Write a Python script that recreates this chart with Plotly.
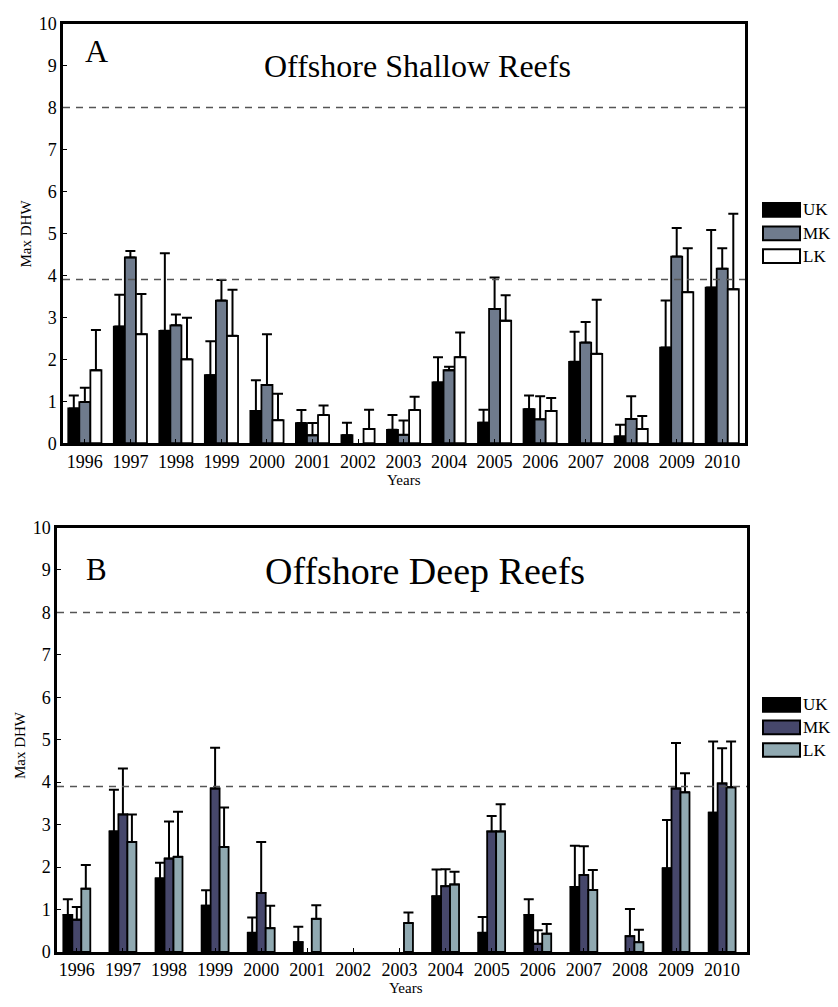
import plotly.graph_objects as go

years = ["1996", "1997", "1998", "1999", "2000", "2001", "2002", "2003",
         "2004", "2005", "2006", "2007", "2008", "2009", "2010"]
series_names = ["UK", "MK", "LK"]

# Panel A: Offshore Shallow Reefs (bar value, error-bar top)
a_uk = [0.83, 2.78, 2.68, 1.62, 0.77, 0.48, 0.19, 0.32, 1.45, 0.49, 0.81, 1.94, 0.16, 2.28, 3.71]
a_uk_top = [1.14, 3.54, 4.53, 2.43, 1.50, 0.79, 0.49, 0.67, 2.05, 0.80, 1.14, 2.66, 0.44, 3.40, 5.08]
a_mk = [0.98, 4.43, 2.81, 3.40, 1.39, 0.19, 0.0, 0.20, 1.74, 3.20, 0.57, 2.40, 0.58, 4.45, 4.16]
a_mk_top = [1.32, 4.58, 3.07, 3.89, 2.60, 0.48, 0.0, 0.54, 1.82, 3.95, 1.12, 2.89, 1.12, 5.13, 4.65]
a_lk = [1.74, 2.60, 2.00, 2.56, 0.55, 0.67, 0.34, 0.79, 2.05, 2.92, 0.77, 2.13, 0.34, 3.60, 3.67]
a_lk_top = [2.70, 3.56, 2.99, 3.66, 1.18, 0.90, 0.80, 1.11, 2.64, 3.53, 1.08, 3.42, 0.65, 4.65, 5.47]

# Panel B: Offshore Deep Reefs
b_uk = [0.87, 2.84, 1.73, 1.09, 0.45, 0.23, 0.0, 0.0, 1.31, 0.45, 0.87, 1.53, 0.0, 1.97, 3.28]
b_uk_top = [1.24, 3.82, 2.10, 1.45, 0.81, 0.59, 0.0, 0.0, 1.94, 0.82, 1.24, 2.50, 0.0, 3.11, 4.96]
b_mk = [0.76, 3.24, 2.20, 3.85, 1.39, 0.0, 0.0, 0.0, 1.55, 2.84, 0.19, 1.81, 0.37, 3.85, 3.97]
b_mk_top = [1.06, 4.32, 3.07, 4.81, 2.59, 0.0, 0.0, 0.0, 1.95, 3.20, 0.51, 2.49, 1.01, 4.92, 4.80]
b_lk = [1.49, 2.59, 2.24, 2.47, 0.56, 0.78, 0.0, 0.68, 1.59, 2.84, 0.43, 1.46, 0.23, 3.76, 3.88]
b_lk_top = [2.05, 3.24, 3.30, 3.40, 1.09, 1.10, 0.0, 0.93, 1.89, 3.48, 0.66, 1.93, 0.52, 4.21, 4.96]

thresholds = [8, 3.9]
y_ticks = list(range(0, 11))

colors_a = ["#000000", "#6f7b8d", "#ffffff"]
colors_b = ["#000000", "#46476b", "#90a9b1"]

W, H = 838, 1007
FONT = "Liberation Serif"

def px(x):
    return x / W

def py(y):
    return 1 - y / H

pos = list(range(1, len(years) + 1))

fig = go.Figure()

panels = [
    dict(vals=[a_uk, a_mk, a_lk], tops=[a_uk_top, a_mk_top, a_lk_top], colors=colors_a,
         xa="x", ya="y", bw=0.243),
    dict(vals=[b_uk, b_mk, b_lk], tops=[b_uk_top, b_mk_top, b_lk_top], colors=colors_b,
         xa="x2", ya="y2", bw=0.195),
]

for p in panels:
    bw = p["bw"]
    for i, name in enumerate(series_names):
        vals = p["vals"][i]
        tops = p["tops"][i]
        yv = [v if v > 0 else None for v in vals]
        err = [max(t - v, 0) if (v > 0 and t > 0) else None for v, t in zip(vals, tops)]
        fig.add_trace(go.Bar(
            x=pos, y=yv, name=name, showlegend=False,
            width=bw, offset=-1.5 * bw + i * bw,
            marker=dict(color=p["colors"][i], line=dict(color="black", width=1.8)),
            error_y=dict(type="data", symmetric=False, array=err, arrayminus=[0] * len(err),
                         color="black", thickness=2, width=5, visible=True),
            xaxis=p["xa"], yaxis=p["ya"],
        ))

axis_common = dict(showline=True, linecolor="black", linewidth=2.5, mirror=True,
                   ticks="inside", ticklen=4, tickcolor="black", showgrid=False,
                   zeroline=False, tickfont=dict(family=FONT, size=18, color="black"))

fig.update_layout(
    width=W, height=H, margin=dict(l=0, r=0, t=0, b=0),
    paper_bgcolor="white", plot_bgcolor="white", barmode="overlay",
    showlegend=False,
    xaxis=dict(domain=[px(63), px(745)], anchor="y", range=[0.52, 15.5],
               tickvals=pos, ticktext=years, **axis_common),
    yaxis=dict(domain=[py(442), py(14)], anchor="x", range=[0, 10],
               tickvals=y_ticks, **axis_common),
    xaxis2=dict(domain=[px(57), px(747)], anchor="y2", range=[0.57, 15.54],
                tickvals=pos, ticktext=years, **axis_common),
    yaxis2=dict(domain=[py(961), py(528)], anchor="x2", range=[0, 10],
                tickvals=y_ticks, **axis_common),
)

shapes = []
for xa, ya in [("x", "y"), ("x2", "y2")]:
    for t in thresholds:
        shapes.append(dict(type="line", xref=f"{xa} domain", yref=ya, x0=0, x1=1, y0=t, y1=t,
                           line=dict(color="#555555", width=1.5, dash="7px,6px"), layer="above"))

# legends
legend_specs = [
    (colors_a, [197, 221, 244]),
    (colors_b, [702, 725, 748]),
]
annotations = []
for cols, ys in legend_specs:
    for c, y0, name in zip(cols, ys, series_names):
        shapes.append(dict(type="rect", xref="paper", yref="paper",
                           x0=px(763), x1=px(800), y0=py(y0 + 14), y1=py(y0),
                           fillcolor=c, line=dict(color="black", width=2)))
        annotations.append(dict(xref="paper", yref="paper", x=px(801), y=py(y0 + 7),
                                text=name, showarrow=False, xanchor="left", yanchor="middle",
                                font=dict(family=FONT, size=17, color="black")))

texts = [
    ("A", 96, 42, 32, 0),
    ("Offshore Shallow Reefs", 417, 57, 32, 0),
    ("B", 96, 571, 31, 0),
    ("Offshore Deep Reefs", 425, 572, 38, 0),
    ("Years", 404, 480, 15, 0),
    ("Years", 406, 998, 15, 0),
    ("Max DHW", 26, 228, 15, -90),
    ("Max DHW", 20, 750, 15, -90),
]
for t, x, y, s, ang in texts:
    annotations.append(dict(xref="paper", yref="paper", x=px(x), y=py(y), text=t,
                            showarrow=False, xanchor="center", yanchor="middle", textangle=ang,
                            font=dict(family=FONT, size=s, color="black")))

fig.update_layout(shapes=shapes, annotations=annotations)

fig.write_html("out.html", config={"displayModeBar": False},
               post_script="document.body.style.margin='0';document.body.style.overflow='hidden';")
